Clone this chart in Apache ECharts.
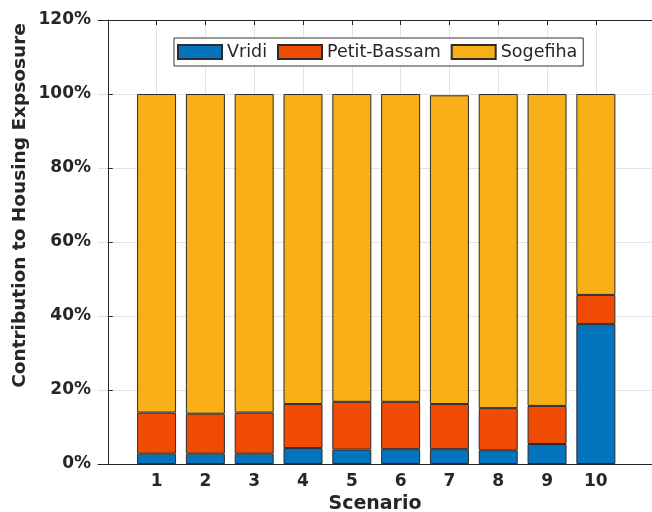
<!DOCTYPE html>
<html>
<head>
<meta charset="utf-8">
<script src="https://cdn.jsdelivr.net/npm/echarts@6/dist/echarts.min.js"></script>
<style>
html,body{margin:0;padding:0;background:#fff;}
#chart{width:652px;height:512px;}
</style>
</head>
<body>
<div id="chart"></div>
<script>
// Scenario numbers (x positions)
var scenarios = [1, 2, 3, 4, 5, 6, 7, 8, 9, 10];
// Segment values (percent)
var vridi = [2.8, 2.8, 2.8, 4.3, 3.9, 4.0, 4.0, 3.7, 5.4, 37.8];
var petitBassam = [11.1, 10.8, 11.1, 11.9, 12.9, 12.8, 12.2, 11.4, 10.3, 7.9];
var sogefiha = [86.1, 86.4, 86.1, 83.8, 83.2, 83.2, 83.45, 84.9, 84.3, 54.3];
var yTicks = [0, 20, 40, 60, 80, 100, 120];
var seriesNames = ['Vridi', 'Petit-Bassam', 'Sogefiha'];
var colors = ['#0474BE', '#F04B03', '#F8AF18'];

var chart = echarts.init(document.getElementById('chart'), null, {renderer: 'canvas'});
var axisColor = '#262626';
var gridColor = '#E3E3E3';
var fontFam = 'DejaVu Sans';

// value first, scenario second, so the stack is computed on the y dimension
function pairs(arr) { return scenarios.map(function (s, i) { return [arr[i], s]; }); }

var valuesBySeries = [vridi, petitBassam, sogefiha];
var series = seriesNames.map(function (name, k) {
  return {
    name: name,
    type: 'bar',
    stack: 'total',
    barWidth: 39,
    xAxisIndex: 0,
    yAxisIndex: 0,
    encode: {x: 1, y: 0},
    data: pairs(valuesBySeries[k]),
    itemStyle: {color: colors[k], borderColor: '#2b2b2b', borderWidth: 1},
    emphasis: {disabled: true},
    animation: false
  };
});

var option = {
  animation: false,
  textStyle: {fontFamily: fontFam},
  grid: {left: 98, top: 20, right: 0, bottom: 48, containLabel: false, outerBoundsMode: 'none'},
  legend: {
    data: seriesNames,
    left: 174,
    top: 38,
    orient: 'horizontal',
    itemWidth: 44,
    itemHeight: 14,
    itemGap: 10,
    padding: [5, 6, 5, 3],
    borderColor: '#333',
    borderWidth: 1,
    backgroundColor: '#fff',
    icon: 'rect',
    textStyle: {fontFamily: fontFam, fontSize: 17.5, color: axisColor, lineHeight: 14}
  },
  xAxis: [{
    type: 'value',
    min: -0.2,
    max: 11.15,
    position: 'bottom',
    name: 'Scenario',
    nameLocation: 'middle',
    nameGap: 30,
    nameTextStyle: {fontFamily: fontFam, fontWeight: 'bold', fontSize: 19, color: axisColor},
    axisLine: {show: true, lineStyle: {color: axisColor, width: 1}},
    axisTick: {show: true, inside: true, length: 5, customValues: scenarios, lineStyle: {color: axisColor}},
    axisLabel: {show: true, customValues: scenarios, margin: 9, fontFamily: fontFam, fontWeight: 'bold', fontSize: 17, color: axisColor},
    splitLine: {show: true, lineStyle: {color: gridColor, width: 1}}
  }, {
    type: 'value',
    min: -0.2,
    max: 11.15,
    position: 'top',
    axisLine: {show: true, onZero: false, lineStyle: {color: axisColor, width: 1}},
    axisTick: {show: true, inside: true, length: 5, customValues: scenarios, lineStyle: {color: axisColor}},
    axisLabel: {show: false},
    splitLine: {show: false}
  }],
  yAxis: [{
    type: 'value',
    min: 0,
    max: 120,
    interval: 20,
    axisLine: {show: true, lineStyle: {color: axisColor, width: 1}},
    axisTick: {show: true, inside: true, length: 5, lineStyle: {color: axisColor}},
    axisLabel: {margin: 7, formatter: '{value}%', fontFamily: fontFam, fontWeight: 'bold', fontSize: 17, color: axisColor},
    splitLine: {show: true, lineStyle: {color: gridColor, width: 1}}
  }],
  graphic: [{
    type: 'text',
    x: 20,
    y: 205.5,
    rotation: Math.PI / 2,
    style: {
      text: 'Contribution to Housing Expsosure',
      fontFamily: fontFam,
      fontWeight: 'bold',
      fontSize: 18.5,
      fill: axisColor,
      textAlign: 'center',
      textVerticalAlign: 'middle'
    }
  }],
  series: series
};
chart.setOption(option);
</script>
</body>
</html>
